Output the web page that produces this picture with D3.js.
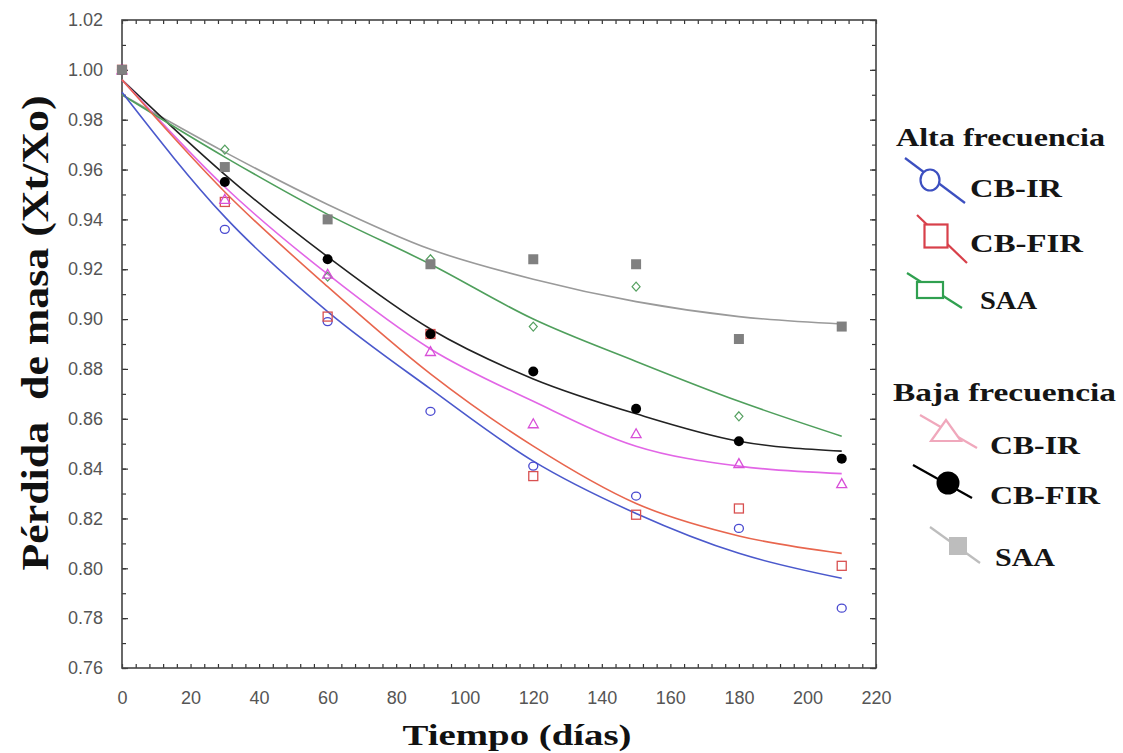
<!DOCTYPE html>
<html><head><meta charset="utf-8">
<script src="https://cdn.jsdelivr.net/npm/d3@7"></script>
<style>html,body{margin:0;padding:0;background:#fff;}svg{display:block;}</style>
</head><body>
<svg id="c" width="1123" height="753"></svg>
<script>
// ---- data ----
const days = [0, 30, 60, 90, 120, 150, 180, 210];
const xTicks = [0, 20, 40, 60, 80, 100, 120, 140, 160, 180, 200, 220];
const yTicks = [0.76, 0.78, 0.80, 0.82, 0.84, 0.86, 0.88, 0.90, 0.92, 0.94, 0.96, 0.98, 1.00, 1.02];
// measured points
const cbirAlta   = [1.000, 0.936, 0.899, 0.863, 0.841, 0.829, 0.816, 0.784];
const cbfirAlta  = [1.000, 0.947, 0.901, 0.894, 0.837, 0.8215, 0.824, 0.801];
const saaAlta    = [1.000, 0.968, 0.917, 0.924, 0.897, 0.913, 0.861, null];
const cbirBaja   = [1.000, 0.948, 0.918, 0.887, 0.858, 0.854, 0.842, 0.834];
const cbfirBaja  = [1.000, 0.955, 0.924, 0.894, 0.879, 0.864, 0.851, 0.844];
const saaBaja    = [1.000, 0.961, 0.940, 0.922, 0.924, 0.922, 0.892, 0.897];
// fitted curves
const fitCbirAlta  = [0.991, 0.941, 0.903, 0.872, 0.843, 0.822, 0.806, 0.796];
const fitCbfirAlta = [0.996, 0.951, 0.913, 0.878, 0.849, 0.826, 0.813, 0.806];
const fitSaaAlta   = [0.990, 0.965, 0.942, 0.922, 0.900, 0.883, 0.867, 0.853];
const fitCbirBaja  = [0.996, 0.953, 0.918, 0.888, 0.867, 0.849, 0.841, 0.838];
const fitCbfirBaja = [0.996, 0.958, 0.925, 0.896, 0.876, 0.862, 0.851, 0.847];
const fitSaaBaja   = [0.990, 0.967, 0.946, 0.928, 0.916, 0.907, 0.901, 0.898];

const series = [
  {name:"CB-IR alta",pts:cbirAlta, fit:fitCbirAlta, line:"#4b59cc", mark:"circle",   col:"#4a4ad0"},
  {name:"CB-FIR alta",pts:cbfirAlta,fit:fitCbfirAlta,line:"#e8664e", mark:"square",  col:"#d85050"},
  {name:"SAA alta",  pts:saaAlta,  fit:fitSaaAlta,  line:"#4f9f5c", mark:"diamond",  col:"#55a060"},
  {name:"CB-IR baja",pts:cbirBaja, fit:fitCbirBaja, line:"#e266e6", mark:"triangle", col:"#d84fd8"},
  {name:"CB-FIR baja",pts:cbfirBaja,fit:fitCbfirBaja,line:"#222222", mark:"fcircle", col:"#000000"},
  {name:"SAA baja",  pts:saaBaja,  fit:fitSaaBaja,  line:"#9a9a9a", mark:"fsquare",  col:"#808080"}
];

const svg = d3.select("#c");
const L = 122, R = 876, T = 20, B = 668;
const x = d3.scaleLinear().domain([0, 220]).range([L, R]);
const y = d3.scaleLinear().domain([0.76, 1.02]).range([B, T]);

// axes with inward ticks
const minorX = d3.range(0, 221, 4);
const minorY = d3.range(0, 27).map(i => +(0.76 + i * 0.01).toFixed(2));
const axisCol = "#333";
function tickAxes(){
  const g = svg.append("g");
  g.append("g").attr("transform",`translate(0,${B})`)
    .call(d3.axisBottom(x).tickValues(minorX).tickSize(-4).tickFormat(""));
  g.append("g").attr("transform",`translate(0,${T})`)
    .call(d3.axisTop(x).tickValues(minorX).tickSize(-4).tickFormat(""));
  g.append("g").attr("transform",`translate(${L},0)`)
    .call(d3.axisLeft(y).tickValues(minorY).tickSize(-4).tickFormat(""));
  g.append("g").attr("transform",`translate(${L},0)`)
    .call(d3.axisLeft(y).tickValues(yTicks).tickSize(-6).tickFormat(""));
  g.append("g").attr("transform",`translate(${R},0)`)
    .call(d3.axisRight(y).tickValues(minorY).tickSize(-4).tickFormat(""));
  g.append("g").attr("transform",`translate(${R},0)`)
    .call(d3.axisRight(y).tickValues(yTicks).tickSize(-6).tickFormat(""));
  g.selectAll(".domain").remove();
  g.selectAll("line").attr("stroke", axisCol).attr("stroke-width", 1.2);
  // labels
  const xl = svg.append("g").attr("transform",`translate(0,${B})`)
    .call(d3.axisBottom(x).tickValues(xTicks).tickSize(0).tickPadding(23).tickFormat(d3.format("d")));
  const yl = svg.append("g").attr("transform",`translate(${L},0)`)
    .call(d3.axisLeft(y).tickValues(yTicks).tickSize(0).tickPadding(19).tickFormat(d3.format(".2f")));
  [xl, yl].forEach(a => {
    a.select(".domain").remove();
    a.selectAll("text").attr("font-family","'Liberation Sans', Arial, sans-serif")
      .attr("font-size", 18).attr("fill", "#555");
  });
  svg.append("rect").attr("x",L).attr("y",T).attr("width",R-L).attr("height",B-T)
    .attr("fill","none").attr("stroke","#444").attr("stroke-width",1.6);
}
tickAxes();

// curves
const lineGen = d3.line().x((d,i)=>x(days[i])).y(d=>y(d)).curve(d3.curveMonotoneX);
series.slice().reverse().forEach(s => {
  svg.append("path").attr("d", lineGen(s.fit)).attr("fill","none")
    .attr("stroke", s.line).attr("stroke-width", 1.6);
});

// markers
function marker(g, type, cx, cy, col, scale){
  const k = scale || 1;
  if (type === "circle") g.append("ellipse").attr("cx",cx).attr("cy",cy).attr("rx",4.5*k).attr("ry",4*k)
      .attr("fill","none").attr("stroke",col).attr("stroke-width",1.3*k);
  else if (type === "square") g.append("rect").attr("x",cx-4.5*k).attr("y",cy-4.5*k).attr("width",9*k).attr("height",9*k)
      .attr("fill","none").attr("stroke",col).attr("stroke-width",1.3*k);
  else if (type === "diamond") g.append("path")
      .attr("d",`M${cx},${cy-4.5*k}L${cx+4*k},${cy}L${cx},${cy+4.5*k}L${cx-4*k},${cy}Z`)
      .attr("fill","none").attr("stroke",col).attr("stroke-width",1.2*k);
  else if (type === "triangle") g.append("path")
      .attr("d",`M${cx},${cy-5*k}L${cx+5*k},${cy+4*k}L${cx-5*k},${cy+4*k}Z`)
      .attr("fill","none").attr("stroke",col).attr("stroke-width",1.3*k);
  else if (type === "fcircle") g.append("circle").attr("cx",cx).attr("cy",cy).attr("r",5*k).attr("fill",col);
  else if (type === "fsquare") g.append("rect").attr("x",cx-5*k).attr("y",cy-5*k).attr("width",10*k).attr("height",10*k).attr("fill",col);
}
const mg = svg.append("g");
series.forEach(s => {
  s.pts.forEach((v,i) => { if (v !== null) marker(mg, s.mark, x(days[i]), y(v), s.col); });
});

// axis titles
svg.append("text").attr("x", 517).attr("y", 745).attr("text-anchor","middle")
  .attr("font-family","'Liberation Serif','Times New Roman',serif").attr("font-weight","bold")
  .attr("font-size", 30).attr("textLength", 229).attr("lengthAdjust","spacingAndGlyphs")
  .attr("fill","#111").text("Tiempo (días)");
svg.append("text").attr("transform","translate(48,333) rotate(-90)").attr("text-anchor","middle")
  .attr("font-family","'Liberation Serif','Times New Roman',serif").attr("font-weight","bold")
  .attr("font-size", 38).attr("textLength", 475).attr("lengthAdjust","spacingAndGlyphs")
  .attr("fill","#111").style("white-space","pre").text("Pérdida  de masa (Xt/Xo)");

// legend
const serif = "'Liberation Serif','Times New Roman',serif";
const legTitles = ["Alta frecuencia", "Baja frecuencia"];
const legNames = ["CB-IR", "CB-FIR", "SAA"];
function legText(xp, yp, t, len, size){
  svg.append("text").attr("x",xp).attr("y",yp).attr("dominant-baseline","central")
    .attr("font-family",serif).attr("font-weight","bold").attr("font-size",size)
    .attr("textLength",len).attr("lengthAdjust","spacingAndGlyphs").attr("fill","#151515").text(t);
}
legText(896, 137, legTitles[0], 209, 26);
legText(893, 392, legTitles[1], 223, 26);
const lg = svg.append("g");
const legItems = [
  {x1:905,y1:158,x2:965,y2:203,col:"#3c4fc0",type:"circle",cx:930,cy:180,tx:970,ty:188,name:legNames[0],len:92},
  {x1:917,y1:215,x2:967,y2:263,col:"#d8404a",type:"square",cx:936,cy:236,tx:970,ty:243,name:legNames[1],len:113},
  {x1:907,y1:273,x2:962,y2:308,col:"#30a050",type:"rect",cx:930,cy:290,tx:980,ty:300,name:legNames[2],len:57},
  {x1:920,y1:415,x2:977,y2:448,col:"#f0a8bc",type:"triangle",cx:946,cy:432,tx:990,ty:445,name:legNames[0],len:90},
  {x1:913,y1:465,x2:972,y2:498,col:"#000000",type:"fcircle",cx:948,cy:483,tx:990,ty:495,name:legNames[1],len:110},
  {x1:930,y1:527,x2:980,y2:563,col:"#bdbdbd",type:"fsquare",cx:958,cy:546,tx:995,ty:557,name:legNames[2],len:60}
];
legItems.forEach(it => {
  lg.append("line").attr("x1",it.x1).attr("y1",it.y1).attr("x2",it.x2).attr("y2",it.y2)
    .attr("stroke",it.col).attr("stroke-width",2.2);
  if (it.type === "circle") lg.append("ellipse").attr("cx",it.cx).attr("cy",it.cy).attr("rx",9.5).attr("ry",10.5)
    .attr("fill","#fff").attr("stroke",it.col).attr("stroke-width",2.2);
  else if (it.type === "square") lg.append("rect").attr("x",it.cx-11.5).attr("y",it.cy-11.5).attr("width",23).attr("height",23)
    .attr("fill","#fff").attr("stroke",it.col).attr("stroke-width",2.2);
  else if (it.type === "rect") lg.append("rect").attr("x",it.cx-13).attr("y",it.cy-8).attr("width",26).attr("height",16)
    .attr("fill","#fff").attr("stroke",it.col).attr("stroke-width",2.2);
  else if (it.type === "triangle") lg.append("path")
    .attr("d",`M${it.cx},${it.cy-12}L${it.cx+15},${it.cy+9}L${it.cx-15},${it.cy+9}Z`)
    .attr("fill","#fff").attr("stroke",it.col).attr("stroke-width",2.2);
  else if (it.type === "fcircle") lg.append("circle").attr("cx",it.cx).attr("cy",it.cy).attr("r",11.5).attr("fill",it.col);
  else if (it.type === "fsquare") lg.append("rect").attr("x",it.cx-9).attr("y",it.cy-9).attr("width",18).attr("height",18).attr("fill",it.col);
  legText(it.tx, it.ty, it.name, it.len, 25);
});
</script>
</body></html>
